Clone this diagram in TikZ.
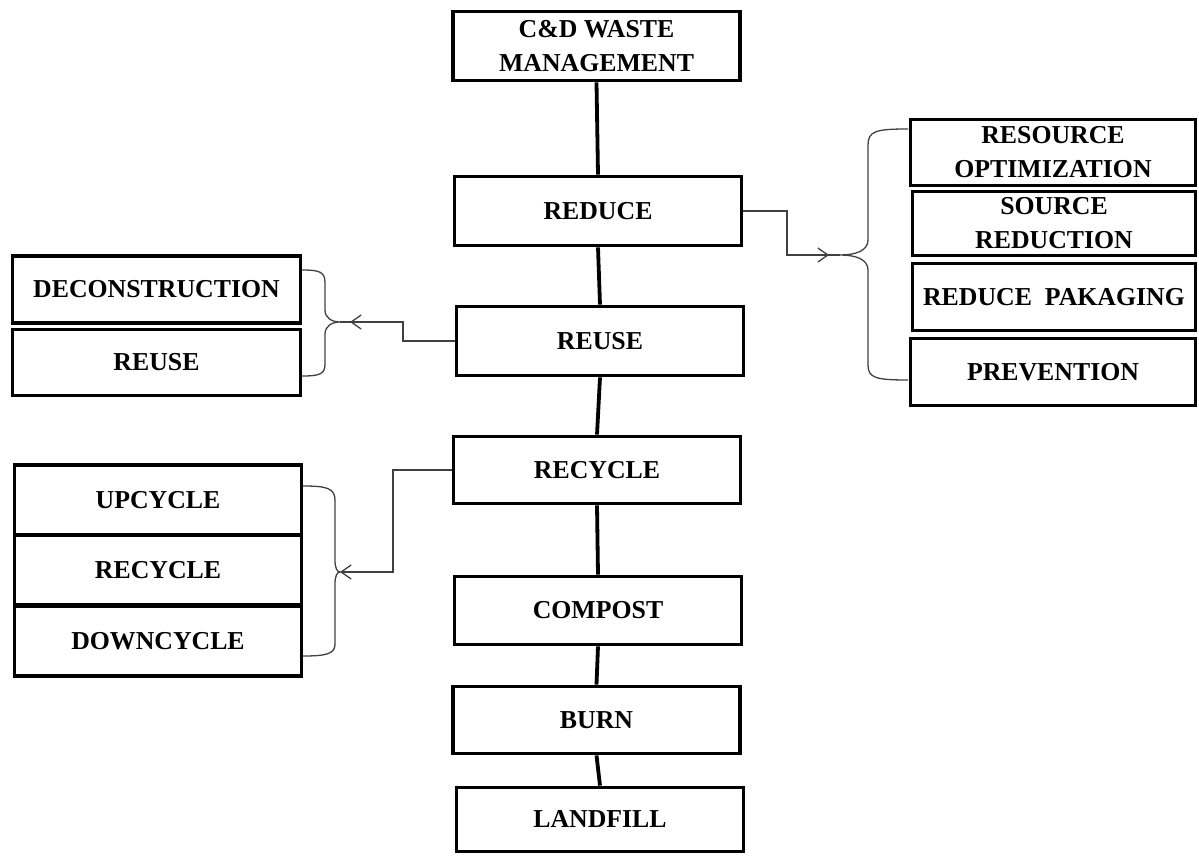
\documentclass[tikz,border=0pt]{standalone}
\usepackage{fontspec}
\setmainfont{Liberation Serif}
\usetikzlibrary{arrows.meta}
\begin{document}
\begin{tikzpicture}[x=1pt,y=-1pt,
 box/.style={draw, line width=3.8pt, minimum width=287pt, minimum height=68pt, inner sep=0pt, align=center, font=\fontsize{25.8}{34}\selectfont\bfseries},
 mainline/.style={line width=3.8pt},
 thinline/.style={line width=1.3pt, draw=black!75},
 barb/.style={-{Straight Barb[length=10pt,width=14pt]}}
]
\path[use as bounding box] (0,0) rectangle (1199,856);

% main column
\node[box, minimum height=69pt] (cd) at (596.5,46) {C\&D WASTE\\MANAGEMENT};
\node[box, minimum height=69pt] (reduce) at (598,211) {REDUCE};
\node[box, minimum height=69pt] (reuse) at (600,341) {REUSE};
\node[box, minimum height=67pt] (recycle) at (597,470) {RECYCLE};
\node[box, minimum height=68pt] (compost) at (598,610.5) {COMPOST};
\node[box, minimum height=67pt] (burn) at (596.5,720) {BURN};
\node[box, minimum height=64pt] (landfill) at (600,819.5) {LANDFILL};

\draw[mainline] (cd.south) -- (reduce.north);
\draw[mainline] (reduce.south) -- (reuse.north);
\draw[mainline] (reuse.south) -- (recycle.north);
\draw[mainline] (recycle.south) -- (compost.north);
\draw[mainline] (compost.south) -- (burn.north);
\draw[mainline] (burn.south) -- (landfill.north);

% right group
\node[box, minimum height=66pt, minimum width=285pt] (ro) at (1053,152.5) {RESOURCE\\OPTIMIZATION};
\node[box, minimum height=64pt, minimum width=283pt] (sr) at (1054,223.5) {SOURCE\\REDUCTION};
\node[box, minimum height=67pt, minimum width=283pt] (rp) at (1054,297) {REDUCE\ \ PAKAGING};
\node[box, minimum height=67pt, minimum width=285pt] (pv) at (1053,372) {PREVENTION};

\coordinate (rb) at (840,255);
\draw[thinline] (908,129) .. controls (876,129) and (868,131) .. (868,145) -- (868,240)
  .. controls (868,251) and (855,255) .. (rb)
  .. controls (855,255) and (868,259) .. (868,270) -- (868,365)
  .. controls (868,378) and (876,380) .. (908,380);
\draw[thinline] (reduce.east) -- (787,211) |- (rb);
\draw[thinline,barb] (812,255) -- (829,255);

% left group 1
\node[box, minimum height=67pt, minimum width=288pt] (dec) at (156.5,289.5) {DECONSTRUCTION};
\node[box, minimum height=66pt, minimum width=288pt] (reuse2) at (156.5,362.5) {REUSE};

\coordinate (lb1) at (340,322);
\draw[thinline] (302,270) .. controls (320,270) and (325,272) .. (325,283) -- (325,310)
  .. controls (325,318) and (332,322) .. (lb1)
  .. controls (332,322) and (325,326) .. (325,334) -- (325,364)
  .. controls (325,374) and (320,376) .. (302,376);
\draw[thinline] (reuse.west) -- (403,341) |- (lb1);
\draw[thinline,barb] (368,322) -- (350,322);

% left group 2
\node[box, minimum height=70pt] (up) at (158,500) {UPCYCLE};
\node[box, minimum height=70pt] (rec2) at (158,570) {RECYCLE};
\node[box, minimum height=70pt] (down) at (158,641) {DOWNCYCLE};

\coordinate (lb2) at (340,572);
\draw[thinline] (303,486) .. controls (326,486) and (335,488) .. (335,500) -- (335,560)
  .. controls (335,568) and (337,572) .. (lb2)
  .. controls (337,572) and (335,576) .. (335,584) -- (335,644)
  .. controls (335,654) and (326,656) .. (303,656);
\draw[thinline,barb] (recycle.west) -- (393,470) |- (lb2);
\end{tikzpicture}
\end{document}
